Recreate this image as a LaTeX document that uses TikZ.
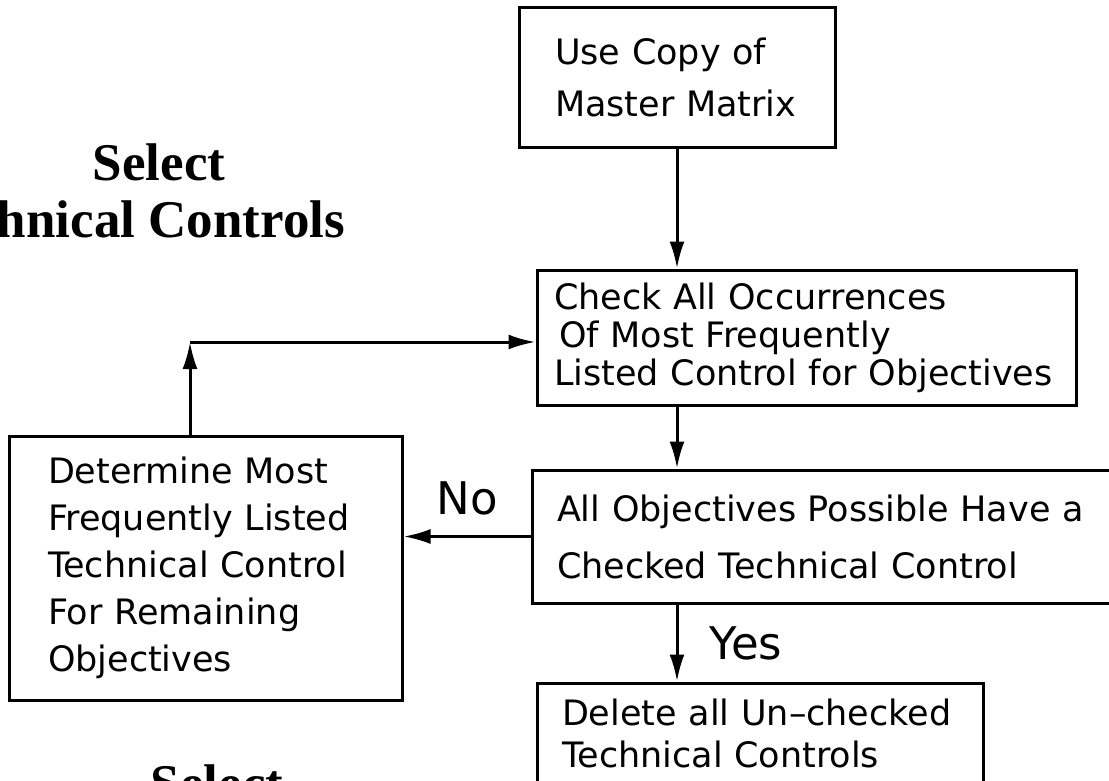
\documentclass[tikz,border=0pt]{standalone}
\usepackage{fontspec}
\setmainfont{DejaVu Sans}
\newfontfamily\headfont{Liberation Serif}
\usetikzlibrary{arrows.meta}
\usetikzlibrary{positioning}

\tikzstyle{flowbox} = [draw=black, line width=3pt, rectangle, align=left,
inner ysep=0pt, font=\fontsize{35}{46}\selectfont]
\tikzstyle{flow} = [draw=black, line width=3pt, -{Latex[length=27pt,width=15pt]}]
\tikzstyle{answer} = [font=\fontsize{45}{50}\selectfont, inner sep=0pt]
\tikzstyle{heading} = [font=\headfont\bfseries\fontsize{53}{60}\selectfont, inner sep=0pt]

\begin{document}
\begin{tikzpicture}[x=1pt, y=-1pt]
        \useasboundingbox (0,0) rectangle (1109,780);
        \clip (0,0) rectangle (1109,780);
        % title, cut by the page edge
        \node[heading, anchor=base] (selTop) at (159,180) {Select};
        \node[heading, anchor=base east] (selSub) at (345,237) {Technical Controls};
        \node[heading, anchor=base] (selLow) at (217,801) {Select};

        \coordinate (spine) at (677,0);
        \coordinate (loop) at (190,342);

        \node[flowbox, font=\fontsize{35}{52}\selectfont, text width=244pt, inner xsep=36pt,
            minimum height=140pt] (useCopy) at (677,77) {Use Copy of\\Master Matrix};
        \node[flowbox, font=\fontsize{35}{38}\selectfont, text width=505pt, inner xsep=17pt,
            minimum height=135pt] (checkAll) at (806.5,337.5)
            {Check All Occurrences\\\hspace{5pt}Of Most Frequently\\Listed Control for Objectives};
        \node[flowbox, font=\fontsize{35}{57}\selectfont, text width=548pt, inner xsep=25pt,
            minimum height=133pt] (allObj) at (831,536.5)
            {All Objectives Possible Have a\\Checked Technical Control};
        \node[flowbox, font=\fontsize{35}{47}\selectfont, text width=315pt, inner xsep=39pt,
            minimum height=264pt] (determine) at (205.5,568)
            {Determine Most\\Frequently Listed\\Technical Control\\For Remaining\\Objectives};
        \node[flowbox, font=\fontsize{35}{42}\selectfont, text width=396pt, inner xsep=25pt,
            minimum height=100pt] (deleteAll) at (760,733)
            {Delete all Un–checked\\Technical Controls};

        \draw[flow] (useCopy.south -| spine) -- (checkAll.north -| spine);
        \draw[flow] (checkAll.south -| spine) -- (allObj.north -| spine);
        \draw[flow] (allObj.west) -- (allObj.west -| determine.east)
            node[answer, midway, above=20pt] (no) {No};
        \draw[flow] (allObj.south -| spine) -- (deleteAll.north -| spine)
            node[answer, midway, right=31pt] (yes) {Yes};
        \draw[flow] (determine.north -| loop) -- (loop);
        \draw[flow] (loop) -- (loop -| checkAll.west);
    \end{tikzpicture}
\end{document}
